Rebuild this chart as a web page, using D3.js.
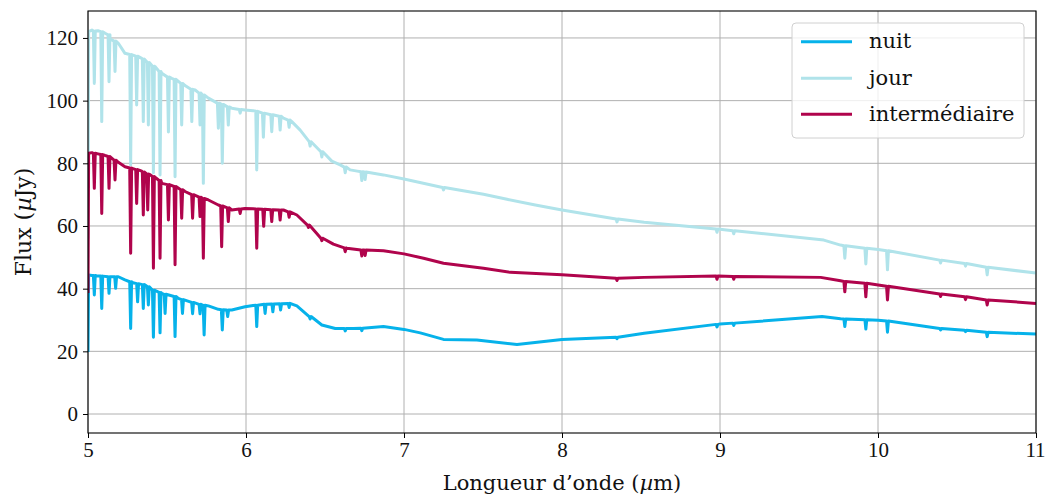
<!DOCTYPE html>
<html><head><meta charset="utf-8">
<script src="https://cdn.jsdelivr.net/npm/d3@7"></script>
<style>
body{margin:0;background:#fff;}
svg{display:block;}
text{font-family:"DejaVu Serif",serif;fill:#111;}
</style></head>
<body>
<svg id="c" width="1046" height="500"></svg>
<script>
// Each entry: [x, y] continuum point, or [x, yContinuum, yLineBottom] absorption line
const xTicks = [5,6,7,8,9,10,11];
const yTicks = [0,20,40,60,80,100,120];
const seriesNames = ["nuit","jour","intermédiaire"];
const seriesColors = ["#06b2ea","#b0e3ea","#b0044c"];

const nuit = [
[5.000,19.8],[5.004,44.4],[5.025,44.2],[5.040,44.2,38.0],[5.063,44.0],[5.087,44.0,33.7],[5.133,43.8,38.5],[5.175,43.8,40.1],[5.192,43.8],[5.234,42.8],[5.270,42.2,27.3],[5.285,41.9],[5.314,41.6,35.8],[5.350,41.3,33.7],[5.361,41.2],[5.382,40.6,34.8],[5.403,39.8],[5.414,39.5,24.5],[5.456,38.8,25.9],[5.467,38.5],[5.488,38.2,32.1],[5.551,37.5,24.7],[5.572,36.9],[5.598,36.5,32.1],[5.662,35.6,32.0],[5.709,35.0,32.0],[5.735,34.7,25.2],[5.762,34.5],[5.825,33.4],[5.850,33.3,26.8],[5.884,33.2,31.1],[5.910,33.2],[5.994,34.2],[6.045,34.6],[6.068,34.7,27.9],[6.121,35.0,32.1],[6.170,35.1,32.6],[6.219,35.2,33.2],[6.273,35.3,34.0],[6.300,34.9],[6.322,34.5],[6.406,31.1,30.3],[6.480,28.4],[6.565,27.3],[6.628,27.3,26.5],[6.680,27.3],[6.733,27.4,26.6],[6.870,27.9],[7.000,27.0],[7.103,25.9],[7.250,23.8],[7.461,23.6],[7.715,22.2],[8.000,23.8],[8.348,24.5,24.0],[8.520,25.8],[8.981,28.6,27.8],[9.000,28.7],[9.087,29.0,28.3],[9.646,31.1],[9.763,30.4],[9.790,30.3,27.9],[9.923,30.1,27.1],[10.001,29.9],[10.060,29.7,26.1],[10.396,27.3,26.8],[10.554,26.7,26.3],[10.691,26.1,24.7],[11.0,25.5]
];

const jour = [
[5.000,56.0],[5.004,122.0],[5.025,122.5],[5.040,122.2,105.5],[5.063,122.3],[5.087,122.0,93.3],[5.108,121.5],[5.133,121.0,106.0],[5.139,119.7],[5.171,119.0,109.3],[5.192,118.3],[5.234,115.1],[5.270,114.7,79.5],[5.285,114.5],[5.308,114.2,98.6],[5.340,113.5],[5.350,113.3,93.3],[5.382,112.2,92.2],[5.414,111.0,77.0],[5.424,110.9],[5.456,109.3,76.3],[5.467,108.7],[5.509,107.5,90.0],[5.530,107.1],[5.551,106.8,75.7],[5.593,105.5,92.2],[5.614,104.8],[5.657,103.6,93.3],[5.678,103.4],[5.709,102.4,92.2],[5.730,101.8,73.6],[5.762,100.8],[5.825,99.2,91.2],[5.850,98.8,80.0],[5.888,98.0,92.2],[5.910,97.6],[5.963,97.2,96.0],[5.994,97.0],[6.045,96.8],[6.068,96.6,77.9],[6.110,96.0,88.3],[6.163,95.5,90.1],[6.216,95.0,90.6],[6.237,94.4],[6.273,93.8,91.5],[6.290,93.3],[6.343,90.6],[6.406,86.9,85.5],[6.480,83.7,82.0],[6.543,80.7],[6.596,79.5],[6.628,78.8,77.0],[6.659,77.9],[6.704,77.5],[6.733,77.3,74.5],[6.754,77.2,74.8],[6.870,76.3],[7.000,75.0],[7.250,72.3,71.5],[7.503,70.1],[7.652,68.5],[7.831,66.7],[8.000,65.1],[8.348,62.2,61.3],[8.520,61.2],[8.981,59.0,58.0],[9.087,58.5,57.5],[9.657,55.5],[9.763,53.9],[9.790,53.7,49.7],[9.923,52.9,47.9],[10.001,52.5],[10.060,52.1,46.0],[10.396,49.1,48.2],[10.554,48.0,47.2],[10.691,46.8,44.4],[11.0,45.0]
];

const intermediaire = [
[5.000,38.6],[5.004,83.2],[5.025,83.4],[5.040,83.2,72.0],[5.063,83.0],[5.087,82.8,64.0],[5.108,82.5],[5.133,82.2,72.0],[5.139,82.1],[5.171,81.0,74.7],[5.192,80.3],[5.234,78.9],[5.270,78.5,51.3],[5.285,78.3],[5.308,78.0,67.2],[5.340,77.5],[5.350,77.2,63.5],[5.378,76.6,65.1],[5.395,76.3],[5.414,75.8,46.5],[5.430,75.3],[5.456,74.5,49.7],[5.467,73.6],[5.509,73.2,61.9],[5.551,72.6,47.6],[5.593,71.6,62.5],[5.614,71.0],[5.662,70.0,62.5],[5.709,69.2,63.0],[5.730,68.8,49.7],[5.762,68.3],[5.825,66.7],[5.846,66.4,53.4],[5.888,65.8,61.4],[5.910,65.1],[5.963,65.4,64.0],[5.994,65.6],[6.045,65.5],[6.068,65.4,52.9],[6.112,65.3,59.9],[6.163,65.2,61.4],[6.216,65.1,61.9],[6.237,65.1],[6.273,64.5,62.8],[6.322,63.5],[6.395,60.3,59.5],[6.480,56.1,55.3],[6.553,54.2],[6.628,53.0,51.8],[6.638,52.9],[6.733,52.3,50.4],[6.754,52.3,50.6],[6.870,52.1],[7.000,51.1],[7.124,49.7],[7.250,48.1],[7.503,46.5],[7.672,45.2],[8.000,44.4],[8.348,43.3,42.6],[8.520,43.6],[8.981,44.0,43.0],[9.087,43.9,43.0],[9.637,43.6],[9.763,42.5],[9.790,42.3,39.0],[9.923,41.7,37.4],[10.001,41.2],[10.060,40.8,36.4],[10.396,38.3,37.5],[10.554,37.4,36.5],[10.691,36.4,34.8],[11.0,35.3]
];

const seriesData = [nuit, jour, intermediaire];

const L = 88, R = 1036, T = 11, B = 433;
const svg = d3.select("#c");
const x = d3.scaleLinear().domain([5, 11]).range([L, R]);
const y = d3.scaleLinear().domain([-6.06, 128.6]).range([B, T]);

svg.append("defs").append("clipPath").attr("id","clip")
  .append("rect").attr("x",L).attr("y",T).attr("width",R-L).attr("height",B-T);

// grid
const grid = svg.append("g");
grid.selectAll(".vx").data(xTicks).join("line")
  .attr("x1",d=>x(d)).attr("x2",d=>x(d)).attr("y1",T).attr("y2",B)
  .attr("stroke","#b0b0b0").attr("stroke-width",1);
grid.selectAll(".hy").data(yTicks).join("line")
  .attr("y1",d=>y(d)).attr("y2",d=>y(d)).attr("x1",L).attr("x2",R)
  .attr("stroke","#b0b0b0").attr("stroke-width",1);

function expand(arr){
  const pts = [];
  arr.forEach(p=>{
    if(p.length===3){ pts.push([p[0]-0.006,p[1]],[p[0],p[2]],[p[0]+0.006,p[1]]); }
    else pts.push(p);
  });
  return pts;
}
const line = d3.line().x(d=>x(d[0])).y(d=>y(d[1]));
const lines = svg.append("g").attr("clip-path","url(#clip)");
seriesData.forEach((s,i)=>{
  lines.append("path").attr("d",line(expand(s))).attr("fill","none")
    .attr("stroke",seriesColors[i]).attr("stroke-width",3)
    .attr("stroke-linejoin","round").attr("stroke-linecap","butt");
});

// axes
const xAxis = d3.axisBottom(x).tickValues(xTicks).tickSize(5).tickPadding(4).tickFormat(d3.format("d"));
const yAxis = d3.axisLeft(y).tickValues(yTicks).tickSize(5).tickPadding(5).tickFormat(d3.format("d"));
const gx = svg.append("g").attr("transform",`translate(0,${B})`).call(xAxis);
const gy = svg.append("g").attr("transform",`translate(${L},0)`).call(yAxis);
[gx,gy].forEach(g=>{
  g.select(".domain").remove();
  g.selectAll("line").attr("stroke","#000").attr("stroke-width",1);
  g.selectAll("text").style("font-family","Liberation Serif").style("font-size","21px").attr("fill","#111");
});
gx.selectAll("text").filter(d=>d===11).attr("dx",-1);
svg.append("rect").attr("x",L).attr("y",T).attr("width",R-L).attr("height",B-T)
  .attr("fill","none").attr("stroke","#000").attr("stroke-width",1.1);

svg.append("text").attr("x",(L+R)/2).attr("y",490).attr("text-anchor","middle")
  .style("font-size","21px")
  .html('Longueur d’onde (<tspan font-style="italic">µ</tspan>m)');
svg.append("text").attr("transform",`translate(31,${(T+B)/2}) rotate(-90)`).attr("text-anchor","middle")
  .style("font-size","22px")
  .html('Flux (<tspan font-style="italic">µ</tspan>Jy)');

// legend
const lg = svg.append("g");
lg.append("rect").attr("x",792).attr("y",23).attr("width",232).attr("height",115)
  .attr("rx",4).attr("fill","#fff").attr("fill-opacity",0.8).attr("stroke","#d0d0d0").attr("stroke-width",1);
const rowsY = [41.7,78.3,114.3];
seriesNames.forEach((n,i)=>{
  lg.append("line").attr("x1",801).attr("x2",852).attr("y1",rowsY[i]).attr("y2",rowsY[i])
    .attr("stroke",seriesColors[i]).attr("stroke-width",3);
  lg.append("text").attr("x",869).attr("y",rowsY[i]).attr("dy","0.32em")
    .style("font-size","21px").text(n);
});
</script>
</body></html>
